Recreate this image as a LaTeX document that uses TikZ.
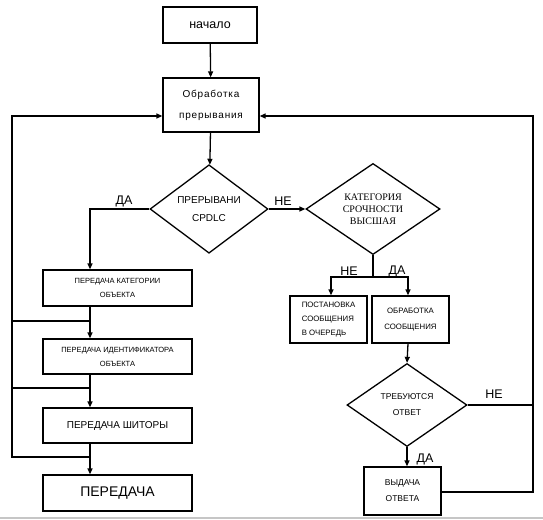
\documentclass[tikz,border=0pt]{standalone}
\usepackage{fontspec}
\setmainfont{Liberation Sans}
\newfontfamily\serifru{Liberation Serif}
\usetikzlibrary{shapes.geometric,arrows.meta}
\begin{document}
\begin{tikzpicture}[x=1pt,y=-1pt,
  line width=1.3pt,
  box/.style={draw,rectangle,inner sep=0pt,align=center},
  dia/.style={draw,diamond,inner sep=0pt,align=center},
  arr/.style={-{Triangle[length=6pt,width=5pt]}},
  lbl/.style={font=\fontsize{12.5}{14}\selectfont,inner sep=0pt}]
\useasboundingbox (0,0) rectangle (543,519);
\fill[gray!45] (0,516.5) rectangle (543,519);

% nodes
\node[box,minimum width=94pt,minimum height=36pt,font=\fontsize{12.5}{14}\selectfont] (start) at (210,25) {начало};
\node[box,minimum width=96pt,minimum height=54pt,font=\fontsize{10}{21}\selectfont\addfontfeature{LetterSpace=8}] (proc) at (211,105) {Обработка\\прерывания};
\node[dia,minimum width=118pt,minimum height=77pt,font=\fontsize{10}{18}\selectfont] (d1) at (209,209) {ПРЕРЫВАНИ\\CPDLC};
\node[dia,minimum width=134pt,minimum height=78pt,font=\serifru\fontsize{10}{12}\selectfont] (d2) at (373,209) {КАТЕГОРИЯ\\СРОЧНОСТИ\\ВЫСШАЯ};
\node[box,minimum width=149pt,minimum height=36pt,font=\fontsize{7.5}{14}\selectfont] (b1) at (117.5,288) {ПЕРЕДАЧА КАТЕГОРИИ\\ОБЪЕКТА};
\node[box,minimum width=149pt,minimum height=35pt,font=\fontsize{7.5}{14}\selectfont] (b2) at (117.5,356.5) {ПЕРЕДАЧА ИДЕНТИФИКАТОРА\\ОБЪЕКТА};
\node[box,minimum width=149pt,minimum height=35pt,font=\fontsize{10}{12}\selectfont] (b3) at (117.5,425.5) {ПЕРЕДАЧА ШИТОРЫ};
\node[box,minimum width=149pt,minimum height=36pt,font=\fontsize{14}{16}\selectfont] (b4) at (117.5,493) {ПЕРЕДАЧА};
\node[box,minimum width=77pt,minimum height=47pt,font=\fontsize{7.8}{14}\selectfont,align=left] (queue) at (328.5,319.5) {ПОСТАНОВКА\\СООБЩЕНИЯ\\В ОЧЕРЕДЬ};
\node[box,minimum width=77pt,minimum height=47pt,font=\fontsize{7.8}{16}\selectfont] (pmsg) at (410.5,319.5) {ОБРАБОТКА\\СООБЩЕНИЯ};
\node[dia,minimum width=120pt,minimum height=83pt,font=\fontsize{8.5}{16}\selectfont] (d3) at (407,405) {ТРЕБУЮТСЯ\\ОТВЕТ};
\node[box,minimum width=77pt,minimum height=48pt,font=\fontsize{8.5}{16}\selectfont] (out) at (402.5,491) {ВЫДАЧА\\ОТВЕТА};

% coordinates
\coordinate (xl) at (90,0);
\coordinate (lx) at (12,0);
\coordinate (rx) at (533,0);
\coordinate (fb) at (0,116);
\coordinate (j1) at (0,321);
\coordinate (j2) at (0,388);
\coordinate (j3) at (0,457);
\coordinate (sp) at (0,277);
\coordinate (xa) at (331,0);
\coordinate (xb) at (408,0);
\coordinate (ry) at (0,492);

% connectors
\draw[arr] (start) -- (proc);
\draw[arr] (proc) -- (d1);
\draw[arr] (d1.west) -- (d1.west -| xl) -- (b1.north -| xl);
\draw[arr] (d1.east) -- (d2.west);
\draw[arr] (b1.south -| xl) -- (b2.north -| xl);
\draw[arr] (b2.south -| xl) -- (b3.north -| xl);
\draw[arr] (b3.south -| xl) -- (b4.north -| xl);
\draw (j1 -| xl) -- (j1 -| lx);
\draw (j2 -| xl) -- (j2 -| lx);
\draw[arr] (j3 -| xl) -- (j3 -| lx) -- (fb -| lx) -- (fb -| proc.west);
\draw (d2.south) -- (sp -| d2.south);
\draw[arr] (sp -| d2.south) -- (sp -| xa) -- (queue.north -| xa);
\draw[arr] (sp -| d2.south) -- (sp -| xb) -- (pmsg.north -| xb);
\draw[arr] (pmsg.south -| xb) -- (d3.north);
\draw[arr] (d3.south) -- (out.north -| d3.south);
\draw (d3.east) -- (d3.east -| rx);
\draw[arr] (ry -| out.east) -- (ry -| rx) -- (fb -| rx) -- (fb -| proc.east);

% labels
\node[lbl] (l1) at (124,201) {ДА};
\node[lbl] (l2) at (283,201) {НЕ};
\node[lbl] (l3) at (349,271) {НЕ};
\node[lbl] (l4) at (397,271) {ДА};
\node[lbl] (l5) at (494,394) {НЕ};
\node[lbl] (l6) at (425,459) {ДА};
\end{tikzpicture}
\end{document}
